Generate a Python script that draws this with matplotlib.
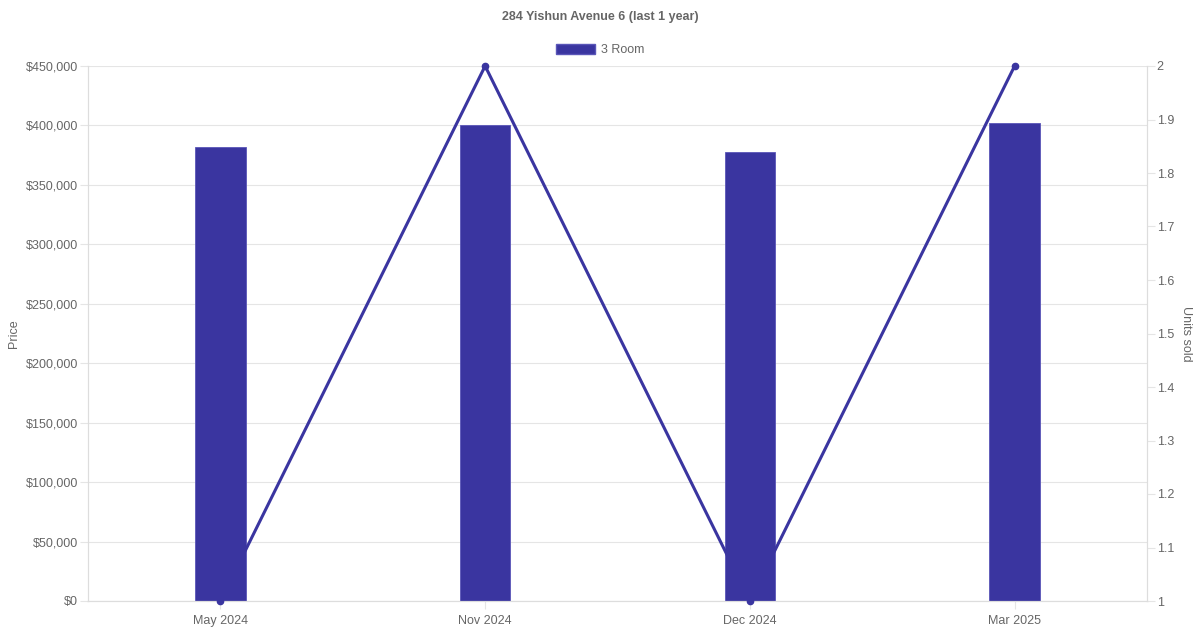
import matplotlib.pyplot as plt
from matplotlib.ticker import FuncFormatter, MultipleLocator
from matplotlib.patches import Patch

plt.rcParams['font.family'] = ['Liberation Sans', 'DejaVu Sans']

months = ["May 2024", "Nov 2024", "Dec 2024", "Mar 2025"]
prices = [382000, 400500, 377500, 402000]
units_sold = [1, 2, 1, 2]

color = "#3a35a0"
grey = "#666666"

fig = plt.figure(figsize=(12, 6.3), dpi=100)
ax = fig.add_axes([88 / 1200, 1 - 601 / 630, (1147 - 88) / 1200, (601 - 66) / 630])
ax2 = ax.twinx()

x = [i + 0.5 for i in range(len(months))]
ax.bar(x, prices, width=0.19, color=color, edgecolor="#5a56b8", linewidth=0.6, zorder=2)
ax.set_xlim(0, len(months))
ax.set_ylim(0, 450000)
ax.yaxis.set_major_locator(MultipleLocator(50000))
ax.yaxis.set_major_formatter(FuncFormatter(lambda v, p: "${:,.0f}".format(v)))
ax.set_xticks(x)
ax.set_xticklabels(months)
ax.set_ylabel("Price", color=grey, fontsize=9)
ax.grid(axis="y", color="#e5e5e5", linewidth=0.8, zorder=0)
ax.set_axisbelow(True)

ax2.plot(x, units_sold, color=color, linewidth=2.2, marker="o", markersize=4.5,
         zorder=3, clip_on=False)
ax2.set_ylim(1, 2)
ax2.yaxis.set_major_locator(MultipleLocator(0.1))
ax2.yaxis.set_major_formatter(FuncFormatter(lambda v, p: "{:g}".format(round(v, 1))))
ax2.set_ylabel("Units sold", color=grey, fontsize=9, rotation=-90, labelpad=13)

for a in (ax, ax2):
    a.tick_params(colors=grey, labelsize=9, length=0, pad=6)
    for side in a.spines:
        a.spines[side].set_color("#dddddd")
    a.spines["top"].set_visible(False)
ax.tick_params(axis="y", length=6, color="#e5e5e5", pad=1)
ax2.tick_params(axis="y", length=6, color="#e5e5e5", pad=1)
ax.tick_params(axis="x", length=6, color="#e5e5e5", pad=4)

fig.text(0.5, 1 - 17 / 630, "284 Yishun Avenue 6 (last 1 year)", ha="center", va="center",
         color=grey, fontsize=9, fontweight="bold")
fig.legend(handles=[Patch(facecolor=color, edgecolor="#5a56b8", label="3 Room")],
           loc="center", bbox_to_anchor=(0.5, 1 - 50 / 630), frameon=False,
           fontsize=9, labelcolor=grey, handlelength=3.1, handleheight=0.9, handletextpad=0.5)

fig.savefig("out.png", dpi=100)
